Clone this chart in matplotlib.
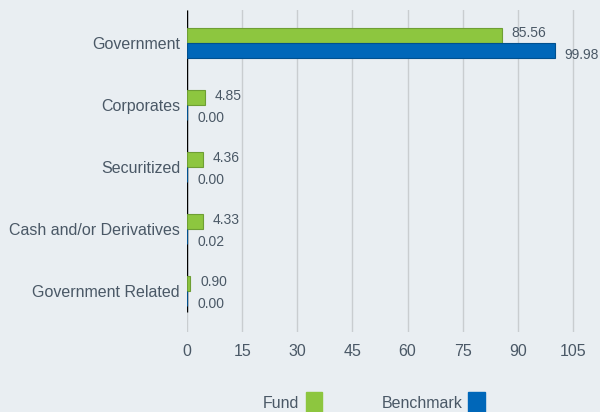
import matplotlib
matplotlib.use("Agg")
import matplotlib.pyplot as plt
from matplotlib.patches import Rectangle

plt.rcParams['font.family'] = ['Liberation Sans', 'DejaVu Sans']

categories = ["Government", "Corporates", "Securitized", "Cash and/or Derivatives", "Government Related"]
fund = [85.56, 4.85, 4.36, 4.33, 0.90]
benchmark = [99.98, 0.00, 0.00, 0.02, 0.00]
xticks = [0, 15, 30, 45, 60, 75, 90, 105]

BG = "#e9eef2"
TXT = "#4a5866"
GREEN = "#8dc63f"
GREEN_E = "#6e9f34"
BLUE = "#0067b9"
BLUE_E = "#00508f"

fig = plt.figure(figsize=(6.0, 4.12), dpi=100, facecolor=BG)
W, H = 600, 412
x0, x1 = 187, 598.7
ytop, ybot = 10, 332
ax = fig.add_axes([x0 / W, 1 - ybot / H, (x1 - x0) / W, (ybot - ytop) / H])
ax.set_facecolor(BG)

ax.set_xlim(0, 112)
ax.set_ylim(4.66, -0.532)

ys = list(range(len(categories)))
bh = 15 / 62
ax.vlines(0, -0.532, 4.34, color="black", linewidth=1.0, zorder=2)
ax.barh([y - bh / 2 for y in ys], fund, height=bh, color=GREEN, edgecolor=GREEN_E, linewidth=0.8, zorder=3)
ax.barh([y + bh / 2 for y in ys], benchmark, height=bh, color=BLUE, edgecolor=BLUE_E, linewidth=0.8, zorder=3)

px = 112 / (x1 - x0)  # data units per pixel
for y, f, b in zip(ys, fund, benchmark):
    ax.text(f + 10 * px, y - bh / 2 - 2 / 62, f"{f:.2f}", va="center", ha="left", fontsize=10, color=TXT)
    ax.text(b + 10 * px, y + bh / 2 + 5 / 62, f"{b:.2f}", va="center", ha="left", fontsize=10, color=TXT)

ax.set_xticks(xticks)
ax.set_xticklabels([str(t) for t in xticks])
ax.set_yticks(ys)
ax.set_yticklabels(categories)
ax.tick_params(axis="both", length=0, labelsize=11.5, colors=TXT)
ax.tick_params(axis="x", pad=9)
ax.tick_params(axis="y", pad=5)
ax.grid(axis="x", color="#c9cdd0", linewidth=1.0, zorder=0)
for s in ax.spines.values():
    s.set_visible(False)

# legend
fig.text(281 / W, 1 - 404 / H, "Fund", ha="center", va="center", fontsize=11.5, color=TXT)
fig.patches.append(Rectangle((306 / W, 0), 16 / W, 20 / H, transform=fig.transFigure, color=GREEN, figure=fig))
fig.text(422 / W, 1 - 404 / H, "Benchmark", ha="center", va="center", fontsize=11.5, color=TXT)
fig.patches.append(Rectangle((468 / W, 0), 17 / W, 20 / H, transform=fig.transFigure, color=BLUE, figure=fig))

fig.savefig("out.png", dpi=100, facecolor=BG)
